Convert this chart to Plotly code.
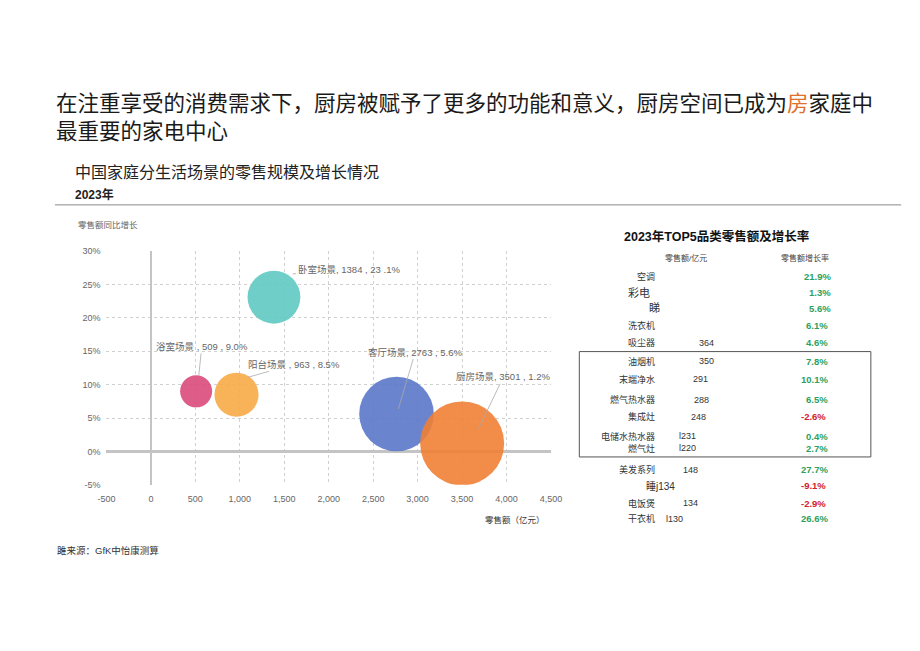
import plotly.graph_objects as go

W, H = 920, 651
FONT = "Liberation Sans, Arial, Noto Sans CJK SC, sans-serif"

# ---- bubble data ----
scenes = ["浴室场景", "阳台场景", "卧室场景", "客厅场景", "厨房场景"]
sales = [509, 963, 1384, 2763, 3501]
growth = [9.0, 8.5, 23.1, 5.6, 1.2]
colors = ["#D94A7B", "#F7AA45", "#5FC9C1", "#5B77C9", "#EF7F35"]

# label texts (as shown)
label_texts = ["浴室场景 , 509 , 9.0%", "阳台场景 , 963 , 8.5%", "卧室场景, 1384 , 23 .1%",
               "客厅场景, 2763 , 5.6%", "厨房场景, 3501 , 1.2%"]
# leader-line anchor points (data coords) and text offsets (px)
label_anchor_x = [539, 1089, 1595, 2783, 3685]
label_anchor_y = [11.4, 11.1, 26.6, 6.35, 3.4]
label_ax = [3, 46, 56, 17, 25]
label_ay = [-29, -13, -4, -57, -52]

x_tickvals = [-500, 0, 500, 1000, 1500, 2000, 2500, 3000, 3500, 4000, 4500]
x_ticktext = ["-500", "0", "500", "1,000", "1,500", "2,000", "2,500", "3,000", "3,500", "4,000", "4,500"]
y_tickvals = [-5, 0, 5, 10, 15, 20, 25, 30]
y_ticktext = ["-5%", "0%", "5%", "10%", "15%", "20%", "25%", "30%"]

# ---- table data ----
tbl_items = ["空调", "彩电", "睇", "洗衣机", "吸尘器", "油烟机", "末端净水", "燃气热水器", "集成灶",
             "电储水热水器", "燃气灶", "美发系列", "睡j134", "电饭煲", "干衣机"]
tbl_sales = ["", "", "", "", "364", "350", "291", "288", "248", "l231", "l220", "148", "", "134", "l130"]
tbl_growth = ["21.9%", "1.3%", "5.6%", "6.1%", "4.6%", "7.8%", "10.1%", "6.5%", "-2.6%",
              "0.4%", "2.7%", "27.7%", "-9.1%", "-2.9%", "26.6%"]

# table layout (pixel positions)
row_y = [276, 292, 308, 325, 343, 362, 380, 401, 418, 438, 450, 472, 488, 506, 522]
item_right_x = [662, 657, 668, 662, 662, 662, 662, 662, 662, 662, 662, 662, 683, 662, 662]
item_size = [9, 11, 11, 9, 9, 9, 9, 9, 9, 9, 9, 9, 10, 9, 9]
sales_left_x = [0, 0, 0, 0, 703, 703, 697, 698, 695, 683, 683, 687, 0, 687, 670]
growth_right_x = [842, 842, 842, 839, 839, 839, 839, 839, 837, 839, 839, 839, 837, 837, 839]


def px(x):
    return x / W


def py(y):
    return 1 - y / H


fig = go.Figure()
sizeref = 2 * max(sales) / (84 ** 2)
for i in range(len(scenes)):
    fig.add_trace(go.Scatter(
        x=[sales[i]], y=[growth[i]], mode="markers", name=scenes[i],
        marker=dict(size=[sales[i]], sizemode="area", sizeref=sizeref,
                    color=colors[i], opacity=0.9, line=dict(width=0)),
        showlegend=False, hoverinfo="x+y+name"))

ann = []
for i in range(len(scenes)):
    ann.append(dict(x=label_anchor_x[i], y=label_anchor_y[i], xref="x", yref="y",
                    text=label_texts[i], showarrow=True, arrowhead=0, arrowwidth=0.8,
                    arrowcolor="#aaaaaa", ax=label_ax[i], ay=label_ay[i], standoff=0,
                    font=dict(size=9.5, color="#666666", family=FONT)))


def T(x, y, text, size=9, color="#333333", xanchor="left", bold=False, family=FONT):
    if bold:
        text = "<b>" + text + "</b>"
    ann.append(dict(x=px(x), y=py(y), xref="paper", yref="paper", text=text, showarrow=False,
                    xanchor=xanchor, yanchor="middle",
                    font=dict(size=size, color=color, family=family)))


# titles
T(46, 101, '在注重享受的消费需求下，厨房被赋予了更多的功能和意义，厨房空间已成为<span style="color:#E0702A">房</span>家庭中',
  size=21.5, color="#1a1a1a")
T(46, 129, "最重要的家电中心", size=21.5, color="#1a1a1a")
T(65, 170, "中国家庭分生活场景的零售规模及增长情况", size=16, color="#222222")
T(65, 192, "2023年", size=12, color="#222222", bold=True)
T(68, 223, "零售额同比增长", size=8.5, color="#666666")
T(517, 523, "零售额（亿元）", size=8.5, color="#333333", xanchor="center")
T(47, 554, "雎来源：GfK中怡康测算", size=9.5, color="#333333")

# table
T(723, 235, "2023年TOP5品类零售额及增长率", size=12.5, color="#111111", xanchor="center", bold=True)
T(692, 257, "零售额/亿元", size=8, color="#444444", xanchor="center")
T(814, 257, "零售额增长率", size=8, color="#444444", xanchor="center")
for i in range(len(tbl_items)):
    T(item_right_x[i], row_y[i], tbl_items[i], size=item_size[i], color="#333333", xanchor="right")
    if tbl_sales[i]:
        T(sales_left_x[i], row_y[i], tbl_sales[i], size=9, color="#333333", xanchor="left")
    g = tbl_growth[i]
    gc = "#D4202C" if g.startswith("-") else "#2E9F5E"
    T(growth_right_x[i], row_y[i], g, size=9.5, color=gc, xanchor="right", bold=True)

shapes = [
    dict(type="line", xref="paper", yref="paper", x0=px(47), x1=px(912), y0=py(203), y1=py(203),
         line=dict(color="#8a8a8a", width=1)),
    dict(type="rect", xref="paper", yref="paper", x0=px(583), x1=px(881), y0=py(352), y1=py(459),
         line=dict(color="#555555", width=1)),
]

fig.update_layout(
    width=W, height=H, margin=dict(l=0, r=0, t=0, b=0),
    paper_bgcolor="white", plot_bgcolor="white",
    annotations=ann, shapes=shapes,
    font=dict(family=FONT),
    xaxis=dict(domain=[px(99.6), px(554)], range=[-500, 4500], tickvals=x_tickvals, ticktext=x_ticktext,
               showgrid=True, gridcolor="#d0d0d0", griddash="dot", gridwidth=1,
               zeroline=True, zerolinecolor="#c4c4c4", zerolinewidth=1.5,
               showline=False, ticks="", ticklabelstandoff=7,
               tickfont=dict(size=9, color="#666666", family=FONT)),
    yaxis=dict(domain=[py(487.3), py(250)], range=[-5, 30], tickvals=y_tickvals, ticktext=y_ticktext,
               showgrid=True, gridcolor="#d0d0d0", griddash="dot", gridwidth=1,
               zeroline=True, zerolinecolor="#c4c4c4", zerolinewidth=2.5,
               showline=False, ticks="", ticklabelstandoff=5,
               tickfont=dict(size=9, color="#666666", family=FONT)),
)

fig.write_html("out.html")
